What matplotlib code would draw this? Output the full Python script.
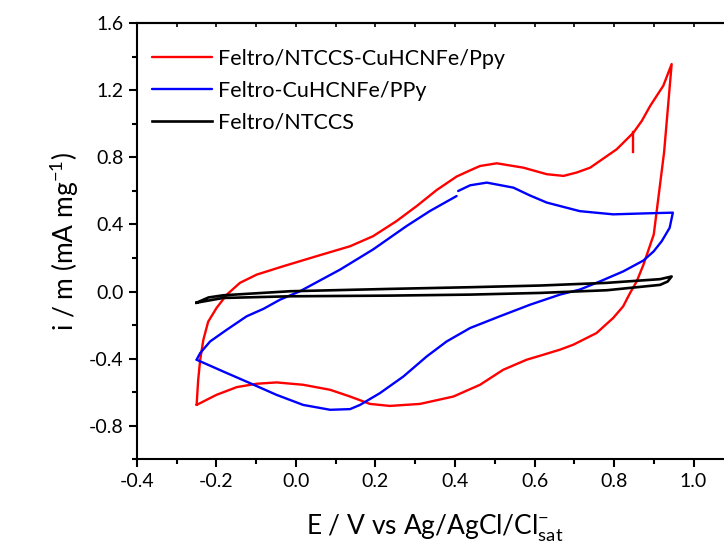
import matplotlib
matplotlib.use("Agg")
import matplotlib.pyplot as plt
from matplotlib.ticker import MultipleLocator

plt.rcParams['font.family'] = ['Lato', 'DejaVu Sans']
plt.rcParams['mathtext.fontset'] = 'custom'
plt.rcParams['mathtext.rm'] = 'Lato'
plt.rcParams['mathtext.it'] = 'Lato'

# red: Feltro/NTCCS-CuHCNFe/Ppy (anodic then cathodic branch)
red_E = [-0.25, -0.246, -0.241, -0.233, -0.221, -0.2, -0.174, -0.141, -0.099, -0.032,
         0.052, 0.136, 0.194, 0.253, 0.304, 0.354, 0.404, 0.438, 0.463, 0.505,
         0.572, 0.631, 0.673, 0.706, 0.74, 0.807, 0.849, 0.87, 0.891, 0.924, 0.945,
         0.926, 0.90, 0.874, 0.857, 0.84, 0.823, 0.798, 0.756, 0.698, 0.664, 0.614,
         0.58, 0.521, 0.463, 0.396, 0.312, 0.236, 0.186, 0.136, 0.086, 0.018,
         -0.049, -0.099, -0.149, -0.2, -0.25]
red_i = [-0.675, -0.525, -0.406, -0.287, -0.18, -0.098, -0.018, 0.052, 0.101, 0.151,
         0.211, 0.27, 0.33, 0.42, 0.51, 0.605, 0.685, 0.722, 0.748, 0.764,
         0.738, 0.699, 0.689, 0.709, 0.738, 0.848, 0.947, 1.017, 1.106, 1.226, 1.355,
         0.83, 0.34, 0.16, 0.06, -0.01, -0.088, -0.157, -0.247, -0.316, -0.346, -0.382,
         -0.406, -0.466, -0.555, -0.625, -0.669, -0.681, -0.669, -0.625, -0.585, -0.555,
         -0.541, -0.549, -0.569, -0.615, -0.675]
# small spike on the red anodic branch
spike_E = [0.849, 0.849]
spike_i = [0.95, 0.83]

# blue: Feltro-CuHCNFe/PPy (two pieces, small gap near 0.41 V)
blue1_E = [-0.25, -0.241, -0.216, -0.174, -0.124, -0.082, -0.04, 0.01, 0.111, 0.194,
           0.278, 0.337, 0.404]
blue1_i = [-0.406, -0.366, -0.297, -0.227, -0.147, -0.103, -0.048, 0.002, 0.131, 0.251,
           0.39, 0.48, 0.569]
blue2_E = [0.408, 0.438, 0.48, 0.547, 0.589, 0.631, 0.714, 0.798, 0.882, 0.948,
           0.94, 0.92, 0.90, 0.874, 0.823, 0.764, 0.714, 0.664, 0.589, 0.513, 0.438,
           0.379, 0.329, 0.27, 0.211, 0.161, 0.136, 0.086, 0.018, -0.049, -0.116,
           -0.183, -0.25]
blue2_i = [0.599, 0.633, 0.649, 0.619, 0.572, 0.53, 0.479, 0.46, 0.466, 0.47,
           0.38, 0.3, 0.24, 0.185, 0.12, 0.06, 0.012, -0.018, -0.078, -0.147, -0.217,
           -0.297, -0.386, -0.506, -0.605, -0.675, -0.7, -0.704, -0.675, -0.615, -0.545,
           -0.476, -0.406]

# black: Feltro/NTCCS
black_E = [-0.25, -0.22, -0.183, -0.015, 0.236, 0.438, 0.614, 0.782, 0.916, 0.945,
           0.935, 0.916, 0.782, 0.614, 0.438, 0.236, -0.015, -0.183, -0.25]
black_i = [-0.066, -0.035, -0.022, 0.002, 0.016, 0.026, 0.036, 0.052, 0.074, 0.09,
           0.06, 0.04, 0.008, -0.008, -0.018, -0.024, -0.028, -0.038, -0.066]

labels = ['Feltro/NTCCS-CuHCNFe/Ppy', 'Feltro-CuHCNFe/PPy', 'Feltro/NTCCS']

fig = plt.figure(figsize=(7.24, 5.54), dpi=100)
ax = fig.add_axes([0.1892, 0.1706, 0.8236, 0.788])

kw = dict(lw=1.7, solid_joinstyle='round', solid_capstyle='round')
ax.plot(red_E, red_i, color='#ff0000', label=labels[0], **kw)
ax.plot(spike_E, spike_i, color='#ff0000', lw=1.7)
ax.plot(blue1_E, blue1_i, color='#0000ff', label=labels[1], **kw)
ax.plot(blue2_E, blue2_i, color='#0000ff', **kw)
ax.plot(black_E, black_i, color='black', lw=1.9, solid_joinstyle='round', label=labels[2])

ax.set_xlim(-0.4, 1.1)
ax.set_ylim(-1.0, 1.6)
ax.xaxis.set_minor_locator(MultipleLocator(0.1))
ax.yaxis.set_minor_locator(MultipleLocator(0.2))
ax.set_xticks([-0.4, -0.2, 0.0, 0.2, 0.4, 0.6, 0.8, 1.0])
ax.set_xticklabels(['-0.4', '-0.2', '0.0', '0.2', '0.4', '0.6', '0.8', '1.0'])
ax.set_yticks([-0.8, -0.4, 0.0, 0.4, 0.8, 1.2, 1.6])
ax.set_yticklabels(['-0.8', '-0.4', '0.0', '0.4', '0.8', '1.2', '1.6'])

for s in ax.spines.values():
    s.set_linewidth(1.5)
ax.tick_params(which='both', direction='out', width=1.5, labelsize=14, top=False)
ax.tick_params(which='major', length=6)
ax.tick_params(which='minor', length=3.5)

sec = ax.secondary_xaxis('top')
sec.set_xticks([-0.4 + 0.1 * k for k in range(15)])
sec.tick_params(direction='in', length=3, width=1.2, labeltop=False)
sec.spines['top'].set_linewidth(1.5)

ax.set_xlabel('E / V vs Ag/AgCl/Cl$^{-}_{\\mathrm{sat}}$', fontsize=19, labelpad=16)
ax.set_ylabel('i / m (mA mg$^{-1}$)', fontsize=19, labelpad=6)

ax.legend(loc='upper left', bbox_to_anchor=(0.0, 0.975), frameon=False, fontsize=15.5,
          handlelength=2.8, handletextpad=0.25, labelspacing=0.55, borderaxespad=0.3)

fig.savefig('out.png', dpi=100)
